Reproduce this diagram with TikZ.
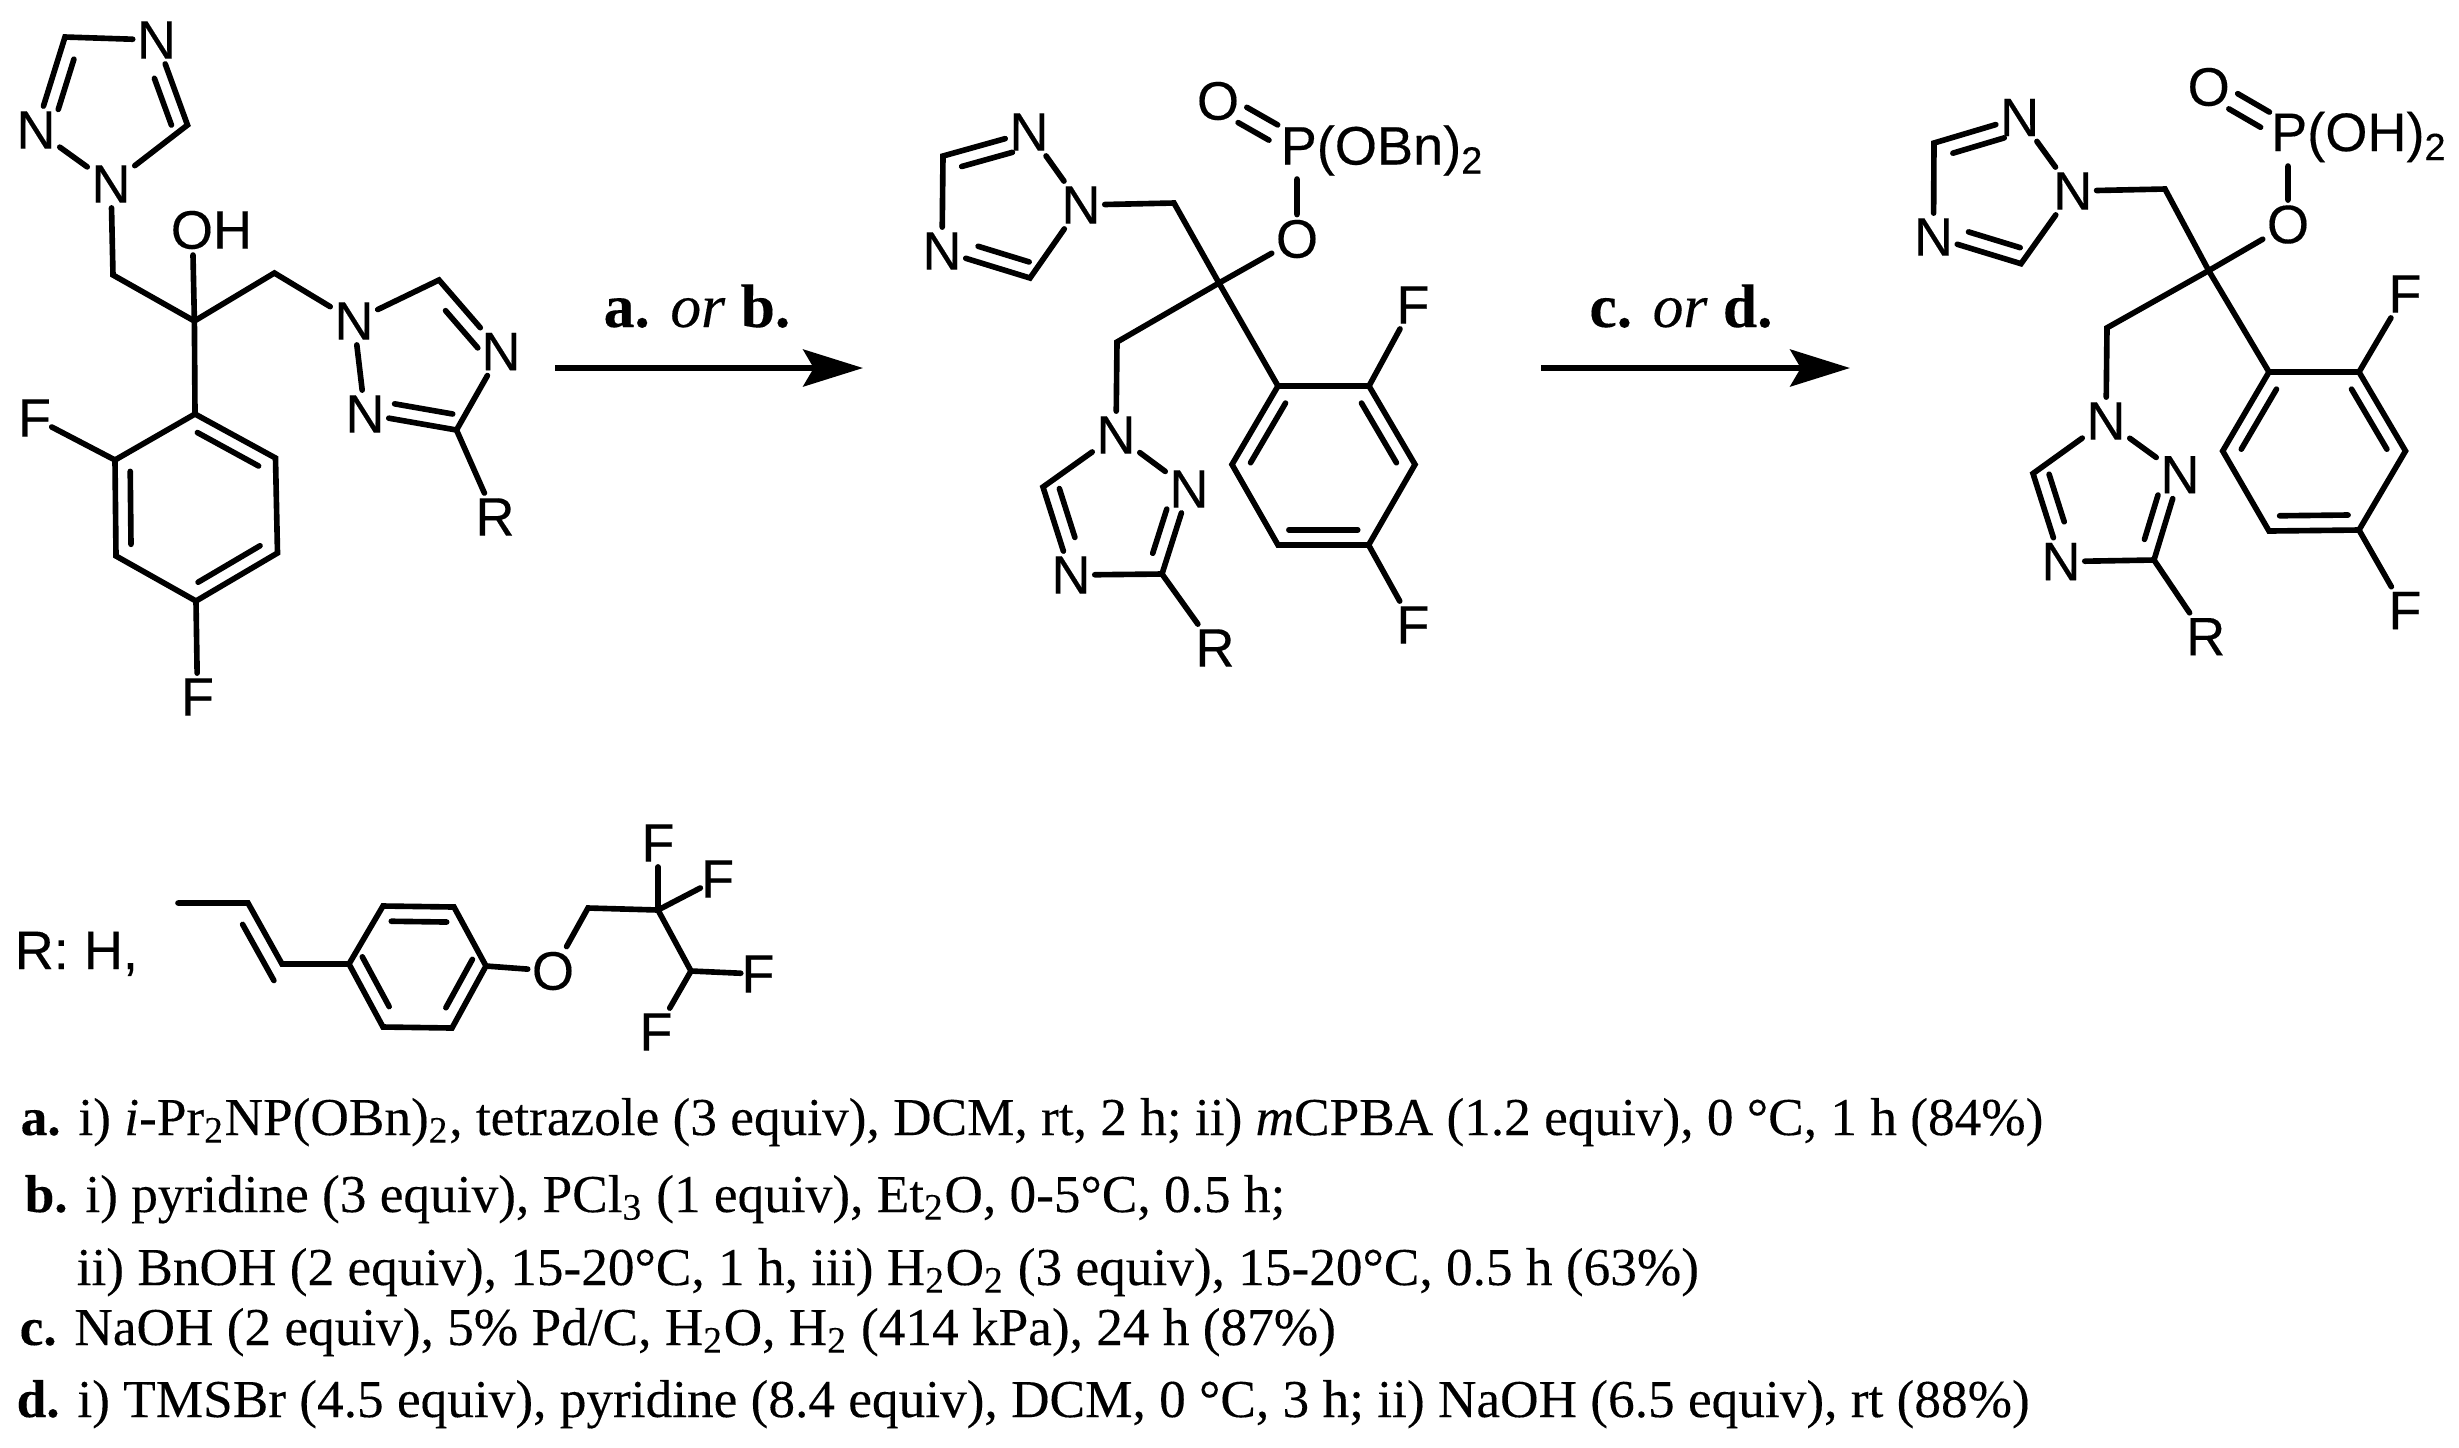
\documentclass[tikz,border=0pt]{standalone}
\usepackage{fontspec}
\setmainfont[FakeBold=0.2]{Liberation Serif}
\newfontfamily\atomfont[FakeBold=0.3]{Liberation Sans}
\usetikzlibrary{shapes, arrows, arrows.meta, calc}
\tikzstyle{atom} = [rectangle, inner xsep=1pt, inner ysep=1.3pt,
    font=\atomfont\fontsize{15.4}{18}\selectfont]
\tikzstyle{halogen} = [atom, inner xsep=0pt]
\tikzstyle{group} = [anchor=base west, inner sep=0pt,
    font=\atomfont\fontsize{15.4}{18}\selectfont]
\tikzstyle{reagent} = [anchor=base west, inner sep=0pt,
    font=\fontsize{15.15}{18}\selectfont]
\tikzstyle{over} = [anchor=base, inner sep=0pt,
    font=\fontsize{17.5}{20}\selectfont]
\tikzstyle{bond} = [draw, line width=1.6pt, line cap=round]
\tikzstyle{line} = [draw, line width=1.7pt, -{Stealth[length=17pt, width=10.5pt, inset=3pt]}]
% second stroke of a double bond: left of the way from #2 to #3, parts #4 to #5
\newcommand{\innerbond}[5][4.3pt]{
    \path [bond] ($(#2)!#4!(#3)!#1!90:(#3)$) -- ($(#2)!#5!(#3)!#1!90:(#3)$);}

\begin{document}
\begin{tikzpicture}[x=.01cm, y=-.01cm]
    \useasboundingbox (0,0) rectangle (2459,1447);
    % Nodes: starting alcohol
    \node [atom] (sntop) at (156.5,40) {N};
    \coordinate (sctop) at (65,37);
    \node [atom] (snleft) at (36,130) {N};
    \node [atom] (snone) at (111,184) {N};
    \coordinate (scright) at (187.5,125);
    \coordinate (schtwo) at (113,275);
    \coordinate (scent) at (194.4,321);
    \node [group, anchor=center] (soh) at (211.5,230) {OH};
    \coordinate (sohend) at (193,255);
    \coordinate (schtwor) at (274.4,273);
    \node [atom] (sntwo) at (354,321) {N};
    \coordinate (schet) at (439,280);
    \node [atom] (snright) at (501,351.6) {N};
    \coordinate (scr) at (456.5,430);
    \node [atom] (snlow) at (365,414) {N};
    \node [atom] (sr) at (495,517) {R};
    \coordinate (sipso) at (195,414);
    \coordinate (sar) at (115,460);
    \coordinate (sbr) at (116,556);
    \coordinate (scr4) at (196,601);
    \coordinate (sdr) at (277.5,553);
    \coordinate (ser) at (275.5,458);
    \node [halogen] (sfone) at (34.5,418) {F};
    \node [halogen] (sftwo) at (197.5,697) {F};
    % Edges: starting alcohol
    \path [bond] (sntop) -- (sctop) -- (snleft);
    \path [bond] (snleft) -- (snone);
    \path [bond] (snone) -- (scright) -- (sntop);
    \innerbond{sctop}{snleft}{.19}{.73}
    \innerbond{scright}{sntop}{.06}{.61}
    \path [bond] (snone) -- (schtwo) -- (scent) -- (schtwor) -- (sntwo);
    \path [bond] (scent) -- (sohend);
    \path [bond] (sntwo) -- (schet) -- (snright);
    \path [bond] (snright) -- (scr) -- (snlow);
    \path [bond] (snlow) -- (sntwo);
    \path [bond] (scr) -- (sr);
    \innerbond{snright}{schet}{.19}{.71}
    \innerbond{snlow}{scr}{.295}{.93}
    \path [bond] (scent) -- (sipso) -- (sar) -- (sbr) -- (scr4) -- (sdr) -- (ser) -- (sipso);
    \path [bond] (sar) -- (sfone);
    \path [bond] (scr4) -- (sftwo);
    \innerbond{sar}{sbr}{.12}{.88}
    \innerbond{scr4}{sdr}{.12}{.88}
    \innerbond{ser}{sipso}{.12}{.88}
    % Nodes: benzyl phosphate
    \node [atom] (eodbl) at (1218,101) {O};
    \node [group] (epobn) at (1280,164.5) {P(OBn)\textsubscript{2}};
    \coordinate (ep) at (1297,146);
    \coordinate (epend) at (1297,179);
    \node [atom] (eo) at (1297,239) {O};
    \node [atom] (entop) at (1029,132) {N};
    \coordinate (ecleft) at (943,156);
    \node [atom] (enleft) at (942,251) {N};
    \coordinate (eclow) at (1030,278);
    \node [atom] (enone) at (1081,205) {N};
    \coordinate (echtwo) at (1174,203);
    \coordinate (ecent) at (1219,283);
    \coordinate (echtwob) at (1117,342);
    \node [atom] (entwo) at (1116,435) {N};
    \node [atom] (enright) at (1189,489) {N};
    \coordinate (ecr) at (1162,574);
    \node [atom] (enlow) at (1071,575) {N};
    \coordinate (echet) at (1043,487);
    \node [atom] (er) at (1215,648) {R};
    \coordinate (eipso) at (1278,386);
    \coordinate (ear) at (1369,386);
    \coordinate (ebr) at (1415,464.5);
    \coordinate (ecr4) at (1368.6,545);
    \coordinate (edr) at (1278,545);
    \coordinate (eer) at (1232,464.5);
    \node [halogen] (efone) at (1413,305) {F};
    \node [halogen] (eftwo) at (1413,625) {F};
    % Edges: benzyl phosphate
    \innerbond[2.5pt]{eodbl}{ep}{.31}{.70}
    \innerbond[-2.5pt]{eodbl}{ep}{.31}{.70}
    \path [bond] (epend) -- (eo) -- (ecent);
    \path [bond] (entop) -- (ecleft) -- (enleft);
    \path [bond] (enleft) -- (eclow) -- (enone);
    \path [bond] (enone) -- (entop);
    \innerbond{entop}{ecleft}{.24}{.83}
    \innerbond{enleft}{eclow}{.36}{.94}
    \path [bond] (enone) -- (echtwo) -- (ecent) -- (echtwob) -- (entwo);
    \path [bond] (entwo) -- (enright);
    \path [bond] (enright) -- (ecr) -- (enlow);
    \path [bond] (enlow) -- (echet) -- (entwo);
    \path [bond] (ecr) -- (er);
    \innerbond{echet}{enlow}{.07}{.625}
    \innerbond{ecr}{enright}{.19}{.71}
    \path [bond] (ecent) -- (eipso) -- (ear) -- (ebr) -- (ecr4) -- (edr) -- (eer) -- (eipso);
    \path [bond] (ear) -- (efone);
    \path [bond] (ecr4) -- (eftwo);
    \innerbond{eipso}{eer}{.12}{.88}
    \innerbond{edr}{ecr4}{.12}{.88}
    \innerbond{ebr}{ear}{.12}{.88}
    % Nodes: phosphonic acid
    \node [atom] (podbl) at (2208.7,87) {O};
    \node [group] (pgroup) at (2270.4,151) {P(OH)\textsubscript{2}};
    \coordinate (pp) at (2288,133);
    \coordinate (ppend) at (2288,166);
    \node [atom] (po) at (2288,224.5) {O};
    \node [atom] (pntop) at (2019.6,117.5) {N};
    \coordinate (pcleft) at (1934,143);
    \node [atom] (pnleft) at (1933.5,237) {N};
    \coordinate (pclow) at (2021,263.7);
    \node [atom] (pnone) at (2072.8,191) {N};
    \coordinate (pchtwo) at (2165,189);
    \coordinate (pcent) at (2208.7,270.6);
    \coordinate (pchtwob) at (2107,327.8);
    \node [atom] (pntwo) at (2106,421) {N};
    \node [atom] (pnright) at (2180,474.7) {N};
    \coordinate (pcr) at (2154,560);
    \node [atom] (pnlow) at (2061,561.6) {N};
    \coordinate (pchet) at (2033,473.5);
    \node [atom] (pr) at (2205.7,636.7) {R};
    \coordinate (pipso) at (2269,372);
    \coordinate (par) at (2359,372);
    \coordinate (pbr) at (2405.5,451);
    \coordinate (pcr4) at (2359,530);
    \coordinate (pdr) at (2269,531);
    \coordinate (per) at (2222.7,451);
    \node [halogen] (pfone) at (2405,294) {F};
    \node [halogen] (pftwo) at (2405,610.6) {F};
    % Edges: phosphonic acid
    \innerbond[2.5pt]{podbl}{pp}{.31}{.71}
    \innerbond[-2.5pt]{podbl}{pp}{.31}{.71}
    \path [bond] (ppend) -- (po) -- (pcent);
    \path [bond] (pntop) -- (pcleft) -- (pnleft);
    \path [bond] (pnleft) -- (pclow) -- (pnone);
    \path [bond] (pnone) -- (pntop);
    \innerbond{pntop}{pcleft}{.23}{.83}
    \innerbond{pnleft}{pclow}{.35}{.94}
    \path [bond] (pnone) -- (pchtwo) -- (pcent) -- (pchtwob) -- (pntwo);
    \path [bond] (pntwo) -- (pnright);
    \path [bond] (pnright) -- (pcr) -- (pnlow);
    \path [bond] (pnlow) -- (pchet) -- (pntwo);
    \path [bond] (pcr) -- (pr);
    \innerbond{pchet}{pnlow}{.06}{.6}
    \innerbond{pcr}{pnright}{.19}{.71}
    \path [bond] (pcent) -- (pipso) -- (par) -- (pbr) -- (pcr4) -- (pdr) -- (per) -- (pipso);
    \path [bond] (par) -- (pfone);
    \path [bond] (pcr4) -- (pftwo);
    \innerbond{pipso}{per}{.12}{.88}
    \innerbond{pdr}{pcr4}{.12}{.88}
    \innerbond{pbr}{par}{.12}{.88}
    % Arrows
    \coordinate (arrowastart) at (555,368);
    \coordinate (arrowaend) at (863,368);
    \coordinate (arrowbstart) at (1541,368);
    \coordinate (arrowbend) at (1850,368);
    \path [line] (arrowastart) -- (arrowaend);
    \path [line] (arrowbstart) -- (arrowbend);
    \node [over] (overa) at (697,327) {\textbf{a.} \textit{or} \textbf{b.}};
    \node [over] (overb) at (1681,327) {\textbf{c.} \textit{or} \textbf{d.}};
    % Nodes: side chain
    \node [group] (rlabel) at (14,969) {R: H,};
    \coordinate (rstart) at (178,903);
    \coordinate (rvinyla) at (248,903);
    \coordinate (rvinylb) at (282,964);
    \coordinate (rar) at (349,964);
    \coordinate (rbr) at (383,906);
    \coordinate (rcr) at (454,907);
    \coordinate (rdr) at (486,966);
    \coordinate (rer) at (452,1028);
    \coordinate (rfr) at (383,1027);
    \node [atom] (ro) at (553,971) {O};
    \coordinate (rchtwo) at (588,908);
    \coordinate (rcftwo) at (658,910);
    \coordinate (rchf) at (691,971);
    \node [halogen] (rfa) at (658,843) {F};
    \node [halogen] (rfb) at (717.6,879) {F};
    \node [halogen] (rfc) at (758,974) {F};
    \node [halogen] (rfd) at (656,1032) {F};
    % Edges: side chain
    \path [bond] (rstart) -- (rvinyla) -- (rvinylb) -- (rar);
    \innerbond{rvinylb}{rvinyla}{-.15}{.77}
    \path [bond] (rar) -- (rbr) -- (rcr) -- (rdr) -- (rer) -- (rfr) -- (rar);
    \innerbond{rcr}{rbr}{.1}{.88}
    \innerbond{rar}{rfr}{0}{.79}
    \innerbond{rer}{rdr}{.21}{.99}
    \path [bond] (rdr) -- (ro) -- (rchtwo) -- (rcftwo) -- (rchf);
    \path [bond] (rcftwo) -- (rfa);
    \path [bond] (rcftwo) -- (rfb);
    \path [bond] (rchf) -- (rfc);
    \path [bond] (rchf) -- (rfd);
    % Reagents
    \node [reagent] (stepa) at (20,1135) {\textbf{a.} i) \textit{i}-Pr\textsubscript{2}NP(OBn)\textsubscript{2}, tetrazole (3 equiv), DCM, rt, 2 h; ii) \textit{m}CPBA (1.2 equiv), 0 °C, 1 h (84\%)};
    \node [reagent] (stepb) at (24,1212) {\textbf{b.} i) pyridine (3 equiv), PCl\textsubscript{3} (1 equiv), Et\textsubscript{2}O, 0-5°C, 0.5 h;};
    \node [reagent] (stepbb) at (76,1285) {ii) BnOH (2 equiv), 15-20°C, 1 h, iii) H\textsubscript{2}O\textsubscript{2} (3 equiv), 15-20°C, 0.5 h (63\%)};
    \node [reagent] (stepc) at (19,1345) {\textbf{c.} NaOH (2 equiv), 5\% Pd/C, H\textsubscript{2}O, H\textsubscript{2} (414 kPa), 24 h (87\%)};
    \node [reagent] (stepd) at (16,1417) {\textbf{d.} i) TMSBr (4.5 equiv), pyridine (8.4 equiv), DCM, 0 °C, 3 h; ii) NaOH (6.5 equiv), rt (88\%)};
\end{tikzpicture}
\end{document}
